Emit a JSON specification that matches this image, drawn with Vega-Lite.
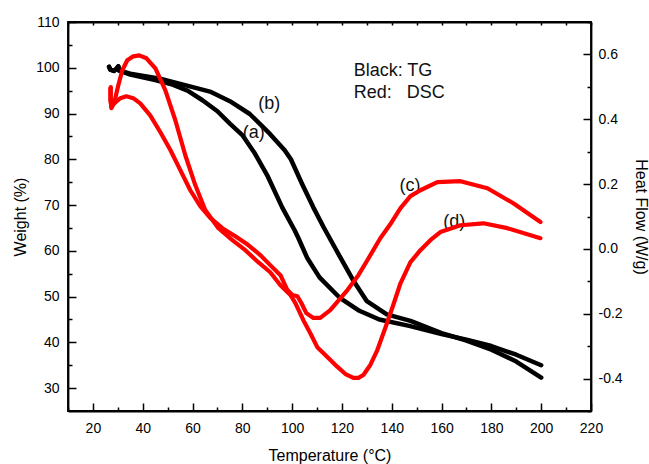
{
  "$schema": "https://vega.github.io/schema/vega-lite/v6.json",
  "width": 523,
  "height": 389,
  "autosize": {"type": "none"},
  "padding": {"left": 68, "top": 22, "right": 58, "bottom": 53},
  "background": "white",
  "config": {
    "view": {"stroke": "black", "strokeWidth": 1.8},
    "axis": {
      "grid": false,
      "domainColor": "black",
      "domainWidth": 1.8,
      "tickColor": "black",
      "tickWidth": 1.5,
      "labelFont": "Liberation Sans",
      "labelFontSize": 14,
      "labelColor": "black",
      "titleFont": "Liberation Sans",
      "titleFontSize": 16,
      "titleFontWeight": "normal",
      "titleColor": "black",
      "labelFlush": false,
      "labelOverlap": false
    },
    "text": {"font": "Liberation Sans", "fontSize": 18, "color": "#111"}
  },
  "datasets": {
    "tg": [
      {"s": "a", "T": 26.5, "v": 100.2}, {"s": "a", "T": 27.0, "v": 99.6}, {"s": "a", "T": 28.5, "v": 99.3}, {"s": "a", "T": 29.5, "v": 99.8}, {"s": "a", "T": 30.2, "v": 100.3}, {"s": "a", "T": 30.5, "v": 99.4},
      {"s": "a", "T": 35, "v": 98.5}, {"s": "a", "T": 45, "v": 97.3}, {"s": "a", "T": 52, "v": 96.3}, {"s": "a", "T": 58, "v": 95.0}, {"s": "a", "T": 64, "v": 92.9}, {"s": "a", "T": 70, "v": 90.5}, {"s": "a", "T": 75, "v": 87.8}, {"s": "a", "T": 80, "v": 85.3}, {"s": "a", "T": 85, "v": 81.3}, {"s": "a", "T": 90, "v": 76.5}, {"s": "a", "T": 96, "v": 69.5}, {"s": "a", "T": 101, "v": 64.5}, {"s": "a", "T": 102.5, "v": 62.8}, {"s": "a", "T": 106, "v": 58.5}, {"s": "a", "T": 111, "v": 54.2}, {"s": "a", "T": 119, "v": 49.8}, {"s": "a", "T": 127, "v": 46.9}, {"s": "a", "T": 135, "v": 45.0}, {"s": "a", "T": 147, "v": 43.6}, {"s": "a", "T": 160, "v": 41.8}, {"s": "a", "T": 170, "v": 40.6}, {"s": "a", "T": 180, "v": 39.2}, {"s": "a", "T": 190, "v": 37.3}, {"s": "a", "T": 200, "v": 35.0},
      {"s": "b", "T": 26.5, "v": 100.2}, {"s": "b", "T": 27.0, "v": 99.6}, {"s": "b", "T": 28.5, "v": 99.3}, {"s": "b", "T": 29.5, "v": 99.8}, {"s": "b", "T": 30.2, "v": 100.3}, {"s": "b", "T": 30.5, "v": 99.4},
      {"s": "b", "T": 35, "v": 98.7}, {"s": "b", "T": 47, "v": 97.6}, {"s": "b", "T": 57, "v": 96.2}, {"s": "b", "T": 67, "v": 94.8}, {"s": "b", "T": 75, "v": 92.7}, {"s": "b", "T": 83, "v": 89.9}, {"s": "b", "T": 91, "v": 85.6}, {"s": "b", "T": 97, "v": 82.0}, {"s": "b", "T": 99.5, "v": 80.0}, {"s": "b", "T": 104, "v": 74.6}, {"s": "b", "T": 108.5, "v": 69.5}, {"s": "b", "T": 112.7, "v": 65.1}, {"s": "b", "T": 119.4, "v": 58.5}, {"s": "b", "T": 124.7, "v": 53.4}, {"s": "b", "T": 130, "v": 49.0}, {"s": "b", "T": 138, "v": 46.1}, {"s": "b", "T": 147.5, "v": 44.7}, {"s": "b", "T": 160, "v": 42.0}, {"s": "b", "T": 170, "v": 40.4}, {"s": "b", "T": 180, "v": 38.4}, {"s": "b", "T": 190, "v": 35.8}, {"s": "b", "T": 200, "v": 32.3}
    ],
    "dsc": [
      {"s": "c", "T": 27.0, "v": 0.496}, {"s": "c", "T": 27.0, "v": 0.459}, {"s": "c", "T": 27.4, "v": 0.44}, {"s": "c", "T": 29.0, "v": 0.452}, {"s": "c", "T": 31.0, "v": 0.465}, {"s": "c", "T": 33.4, "v": 0.471}, {"s": "c", "T": 36.2, "v": 0.465}, {"s": "c", "T": 39.0, "v": 0.449}, {"s": "c", "T": 43.0, "v": 0.412}, {"s": "c", "T": 47.1, "v": 0.36}, {"s": "c", "T": 51.1, "v": 0.305}, {"s": "c", "T": 55.1, "v": 0.243}, {"s": "c", "T": 59.1, "v": 0.181}, {"s": "c", "T": 63.1, "v": 0.132}, {"s": "c", "T": 67.2, "v": 0.095}, {"s": "c", "T": 72.0, "v": 0.064}, {"s": "c", "T": 77.2, "v": 0.039}, {"s": "c", "T": 82.4, "v": 0.012}, {"s": "c", "T": 87.2, "v": -0.019}, {"s": "c", "T": 91.2, "v": -0.05}, {"s": "c", "T": 95.3, "v": -0.081}, {"s": "c", "T": 98.1, "v": -0.127}, {"s": "c", "T": 100.1, "v": -0.142}, {"s": "c", "T": 102.1, "v": -0.146}, {"s": "c", "T": 103.7, "v": -0.167}, {"s": "c", "T": 105.7, "v": -0.198}, {"s": "c", "T": 108.5, "v": -0.213}, {"s": "c", "T": 111.3, "v": -0.213}, {"s": "c", "T": 115.3, "v": -0.189}, {"s": "c", "T": 122.2, "v": -0.127}, {"s": "c", "T": 126.6, "v": -0.081}, {"s": "c", "T": 130.2, "v": -0.035}, {"s": "c", "T": 135.4, "v": 0.033}, {"s": "c", "T": 139.4, "v": 0.076}, {"s": "c", "T": 143.5, "v": 0.126}, {"s": "c", "T": 147.5, "v": 0.163}, {"s": "c", "T": 151.5, "v": 0.181}, {"s": "c", "T": 158.3, "v": 0.206}, {"s": "c", "T": 167.6, "v": 0.209}, {"s": "c", "T": 178.4, "v": 0.187}, {"s": "c", "T": 188.8, "v": 0.141}, {"s": "c", "T": 199.7, "v": 0.083},
      {"s": "d", "T": 27.2, "v": 0.499}, {"s": "d", "T": 27.2, "v": 0.459}, {"s": "d", "T": 27.4, "v": 0.434}, {"s": "d", "T": 28.6, "v": 0.452}, {"s": "d", "T": 30.2, "v": 0.505}, {"s": "d", "T": 31.8, "v": 0.551}, {"s": "d", "T": 33.8, "v": 0.582}, {"s": "d", "T": 36.2, "v": 0.594}, {"s": "d", "T": 38.6, "v": 0.597}, {"s": "d", "T": 41.5, "v": 0.588}, {"s": "d", "T": 45.1, "v": 0.557}, {"s": "d", "T": 49.1, "v": 0.489}, {"s": "d", "T": 53.1, "v": 0.397}, {"s": "d", "T": 57.1, "v": 0.289}, {"s": "d", "T": 61.1, "v": 0.197}, {"s": "d", "T": 65.1, "v": 0.12}, {"s": "d", "T": 70.4, "v": 0.064}, {"s": "d", "T": 76.0, "v": 0.027}, {"s": "d", "T": 81.2, "v": -0.004}, {"s": "d", "T": 86.4, "v": -0.041}, {"s": "d", "T": 91.2, "v": -0.072}, {"s": "d", "T": 95.3, "v": -0.112}, {"s": "d", "T": 99.3, "v": -0.142}, {"s": "d", "T": 101.3, "v": -0.167}, {"s": "d", "T": 104.5, "v": -0.22}, {"s": "d", "T": 107.3, "v": -0.26}, {"s": "d", "T": 110.1, "v": -0.303}, {"s": "d", "T": 113.3, "v": -0.327}, {"s": "d", "T": 118.2, "v": -0.364}, {"s": "d", "T": 121.4, "v": -0.386}, {"s": "d", "T": 124.6, "v": -0.398}, {"s": "d", "T": 126.6, "v": -0.398}, {"s": "d", "T": 128.6, "v": -0.389}, {"s": "d", "T": 131.4, "v": -0.358}, {"s": "d", "T": 134.2, "v": -0.312}, {"s": "d", "T": 137.4, "v": -0.244}, {"s": "d", "T": 140.6, "v": -0.173}, {"s": "d", "T": 143.5, "v": -0.106}, {"s": "d", "T": 147.5, "v": -0.041}, {"s": "d", "T": 151.5, "v": -0.004}, {"s": "d", "T": 155.5, "v": 0.027}, {"s": "d", "T": 159.5, "v": 0.052}, {"s": "d", "T": 167.6, "v": 0.073}, {"s": "d", "T": 176.8, "v": 0.079}, {"s": "d", "T": 186.4, "v": 0.064}, {"s": "d", "T": 199.7, "v": 0.033}
    ],
    "curveLabels": [
      {"label": "(a)", "T": 84.6, "v": 85.8},
      {"label": "(b)", "T": 90.8, "v": 92.1},
      {"label": "(c)", "T": 147.3, "v": 74.2},
      {"label": "(d)", "T": 165.1, "v": 66.2}
    ],
    "legendText": [
      {"label": "Black: TG", "T": 124.7, "v": 99.3},
      {"label": "Red:\u00a0\u00a0 DSC", "T": 124.7, "v": 94.5}
    ]
  },
  "encoding": {
    "x": {
      "field": "T", "type": "quantitative",
      "scale": {"domain": [10, 220], "nice": false, "zero": false},
      "axis": {
        "orient": "bottom",
        "title": "Temperature (°C)",
        "values": [10, 20, 30, 40, 50, 60, 70, 80, 90, 100, 110, 120, 130, 140, 150, 160, 170, 180, 190, 200, 210, 220],
        "labelExpr": "datum.value % 20 === 0 ? datum.label : ''",
        "tickSize": {"condition": {"test": "datum.value % 20 !== 0", "value": -4}, "value": -8},
        "labelPadding": 18,
        "titlePadding": 8
      }
    }
  },
  "layer": [
    {
      "encoding": {
        "y": {
          "field": "v", "type": "quantitative",
          "scale": {"domain": [25, 110], "nice": false, "zero": false},
          "axis": {
            "orient": "left",
            "title": "Weight (%)",
            "values": [30, 35, 40, 45, 50, 55, 60, 65, 70, 75, 80, 85, 90, 95, 100, 105, 110],
            "labelExpr": "datum.value % 10 === 0 ? datum.label : ''",
            "tickSize": {"condition": {"test": "datum.value % 10 !== 0", "value": -4}, "value": -8},
            "labelPadding": 17,
            "titlePadding": 7
          }
        }
      },
      "layer": [
        {
          "data": {"name": "tg"},
          "mark": {"type": "line", "color": "black", "strokeWidth": 4.5, "strokeCap": "round", "strokeJoin": "round"},
          "encoding": {
            "detail": {"field": "s"},
            "order": {"value": null}
          }
        },
        {
          "data": {"name": "curveLabels"},
          "mark": {"type": "text", "align": "center", "baseline": "middle"},
          "encoding": {"text": {"field": "label"}}
        },
        {
          "data": {"name": "legendText"},
          "mark": {"type": "text", "align": "left", "baseline": "middle"},
          "encoding": {"text": {"field": "label"}}
        }
      ]
    },
    {
      "data": {"name": "dsc"},
      "mark": {"type": "line", "color": "red", "strokeWidth": 4.2, "strokeCap": "round", "strokeJoin": "round"},
      "encoding": {
        "x": {
          "field": "T", "type": "quantitative",
          "axis": {
            "orient": "top",
            "title": null,
            "labels": false,
            "values": [10, 20, 30, 40, 50, 60, 70, 80, 90, 100, 110, 120, 130, 140, 150, 160, 170, 180, 190, 200, 210, 220],
            "tickSize": -3
          }
        },
        "y": {
          "field": "v", "type": "quantitative",
          "scale": {"domain": [-0.5, 0.7], "nice": false, "zero": false},
          "axis": {
            "orient": "right",
            "title": "Heat Flow (W/g)",
            "values": [-0.5, -0.4, -0.3, -0.2, -0.1, 0, 0.1, 0.2, 0.3, 0.4, 0.5, 0.6, 0.7],
            "format": ".1f",
            "labelExpr": "round(datum.value * 10) % 2 === 0 ? replace(datum.label, '\u2212', '-') : ''",
            "tickSize": {"condition": {"test": "round(datum.value * 10) % 2 !== 0", "value": -4}, "value": -8},
            "labelPadding": 15,
            "titlePadding": 10
          }
        },
        "detail": {"field": "s"},
        "order": {"value": null}
      }
    }
  ],
  "resolve": {"scale": {"y": "independent"}, "axis": {"x": "independent"}}
}
